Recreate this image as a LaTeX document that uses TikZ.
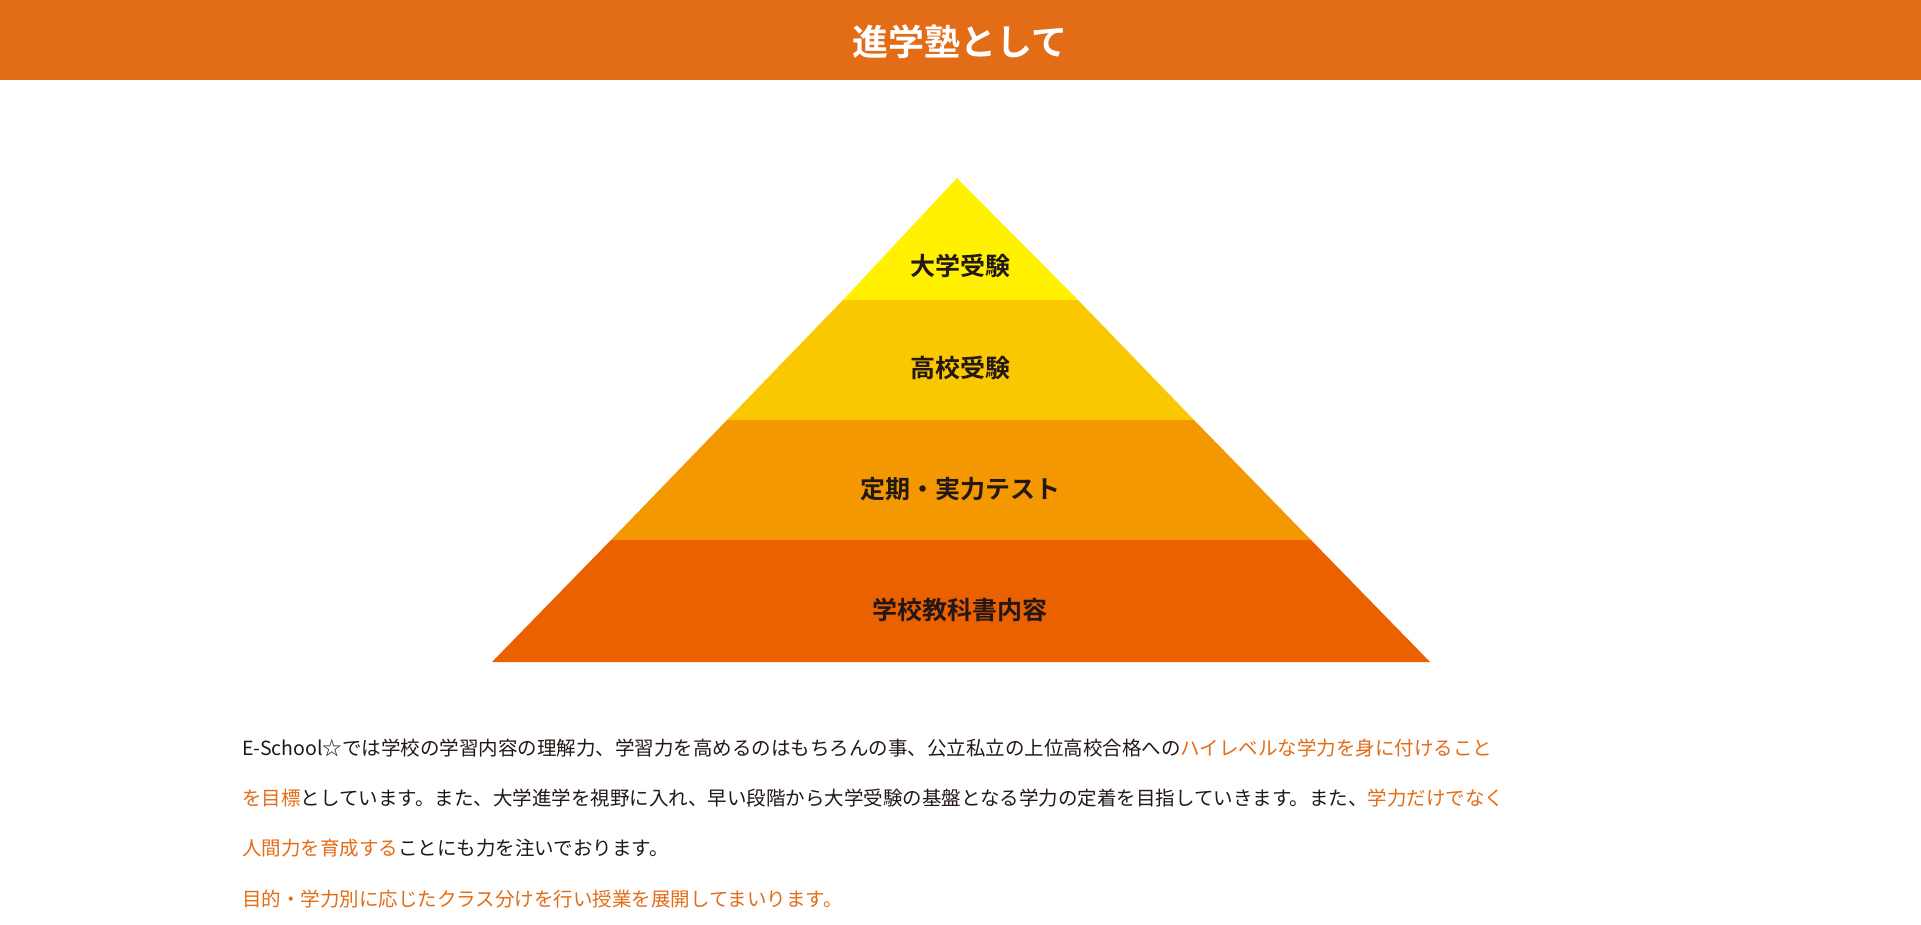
\documentclass[tikz,border=0pt]{standalone}
\usepackage{fontspec}
\setmainfont{Noto Sans CJK JP}
\newfontfamily\jpb{Noto Sans CJK JP Bold}
\definecolor{hdr}{HTML}{E36C17}
\definecolor{c1}{HTML}{FFF100}
\definecolor{c2}{HTML}{FAC800}
\definecolor{c3}{HTML}{F39800}
\definecolor{c4}{HTML}{EB6100}
\definecolor{txt}{HTML}{231815}
\definecolor{hl}{HTML}{E36C17}
\tikzset{lbl/.style={font=\jpb\fontsize{25}{30}\selectfont,text=txt},
 para/.style={anchor=west,font=\fontsize{19.5}{24}\selectfont,text=txt,inner sep=0pt}}
\newcommand{\hlt}[1]{\textcolor{hl}{#1}}
\begin{document}
\begin{tikzpicture}[x=1pt,y=-1pt]
\useasboundingbox (0,0) rectangle (1921,925);
\fill[white] (0,0) rectangle (1921,925);
\fill[hdr] (0,0) rectangle (1921,80);
\node[font=\jpb\fontsize{36}{40}\selectfont,text=white] (title) at (960,42) {進学塾として};
% pyramid: apex (957,178), base y=662 x 492..1430 ; slope 469/484
\fill[c4] (492,662) -- (1430,662) -- (1311,540) -- (611,540) -- cycle;
\fill[c3] (611,540) -- (1311,540) -- (1194,420) -- (727,420) -- cycle;
\fill[c2] (727,420) -- (1194,420) -- (1078,300) -- (843,300) -- cycle;
\fill[c1] (843,300) -- (1078,300) -- (957,178) -- cycle;
\node[lbl] (t1) at (960,266) {大学受験};
\node[lbl] (t2) at (960,368) {高校受験};
\node[lbl] (t3) at (960,489) {定期・実力テスト};
\node[lbl] (t4) at (960,610) {学校教科書内容};
\node[para] (p1) at (242,748) {E-School☆では学校の学習内容の理解力、学習力を高めるのはもちろんの事、公立私立の上位高校合格への\hlt{ハイレベルな学力を身に付けること}};
\node[para] (p2) at (242,798) {\hlt{を目標}としています。また、大学進学を視野に入れ、早い段階から大学受験の基盤となる学力の定着を目指していきます。また、\hlt{学力だけでなく}};
\node[para] (p3) at (242,848) {\hlt{人間力を育成する}ことにも力を注いでおります。};
\node[para] (p4) at (242,899) {\hlt{目的・学力別に応じたクラス分けを行い授業を展開してまいります。}};
\end{tikzpicture}
\end{document}
